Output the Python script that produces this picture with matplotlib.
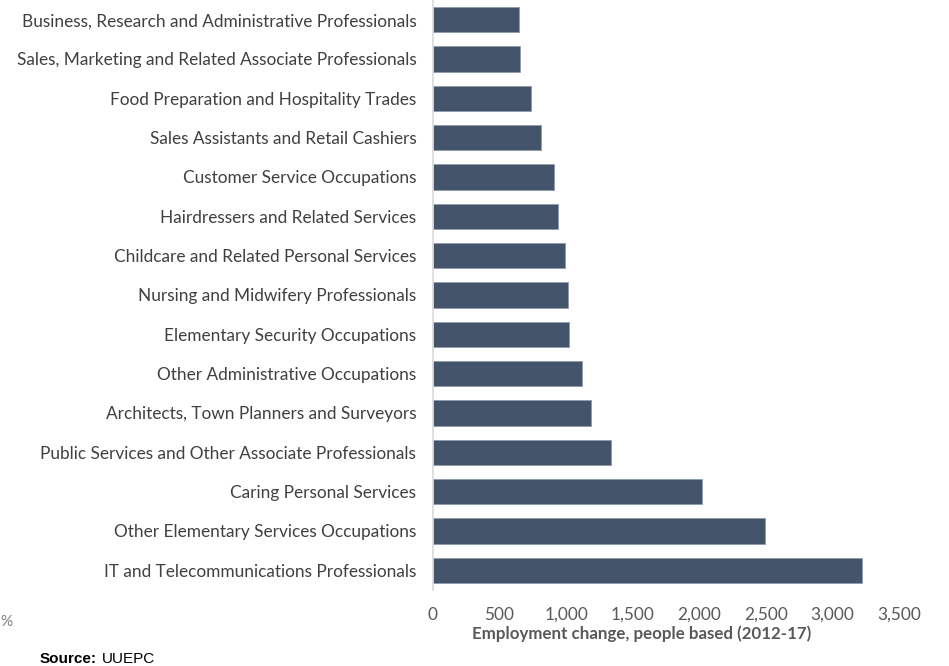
import numpy as np
import matplotlib.pyplot as plt

occupations = [
    "Business, Research and Administrative Professionals",
    "Sales, Marketing and Related Associate Professionals",
    "Food Preparation and Hospitality Trades",
    "Sales Assistants and Retail Cashiers",
    "Customer Service Occupations",
    "Hairdressers and Related Services",
    "Childcare and Related Personal Services",
    "Nursing and Midwifery Professionals",
    "Elementary Security Occupations",
    "Other Administrative Occupations",
    "Architects, Town Planners and Surveyors",
    "Public Services and Other Associate Professionals",
    "Caring Personal Services",
    "Other Elementary Services Occupations",
    "IT and Telecommunications Professionals",
]
change = [645, 652, 735, 810, 907, 937, 990, 1012, 1020, 1117, 1184, 1334, 2017, 2496, 3224]
x_ticks = [0, 500, 1000, 1500, 2000, 2500, 3000, 3500]

plt.rcParams['font.family'] = ['Lato', 'DejaVu Sans']

fig = plt.figure(figsize=(9.49, 6.66), dpi=100)
ax = fig.add_axes([433 / 949, 1 - 590 / 666, 466 / 949, 590 / 666])

y = np.arange(len(occupations))
ax.barh(y, change, height=0.64, color="#44546A", edgecolor="#8E9BAE", linewidth=0.6)
ax.set_ylim(len(occupations) - 0.5, -0.5)
ax.set_xlim(0, 3500)

ax.set_yticks(y)
ax.set_yticklabels(occupations, fontsize=12.4, color="#404040")
ax.set_xticks(x_ticks)
ax.set_xticklabels([f"{v:,}" for v in x_ticks], fontsize=12.4, color="#595959")
ax.tick_params(axis="both", length=0)
ax.tick_params(axis="y", pad=12)
ax.tick_params(axis="x", pad=12)

for side in ["top", "right", "bottom"]:
    ax.spines[side].set_visible(False)
ax.spines["left"].set_color("#D9D9D9")
ax.spines["left"].set_linewidth(1.2)

fig.text(642 / 949, 1 - 634 / 666, "Employment change, people based (2012-17)",
         ha="center", va="center", fontsize=12.2, fontweight="bold", color="#595959")
fig.text(0.0, 1 - 622 / 666, "%", ha="left", va="center", fontsize=11, color="#7F7F7F")
fig.text(40 / 949, 1 - 659 / 666, "Source:", ha="left", va="center",
         fontsize=11, fontweight="bold", family="Liberation Sans", color="black")
fig.text(102 / 949, 1 - 659 / 666, "UUEPC", ha="left", va="center",
         fontsize=11, family="Liberation Sans", color="black")

fig.savefig("out.png", dpi=100)
